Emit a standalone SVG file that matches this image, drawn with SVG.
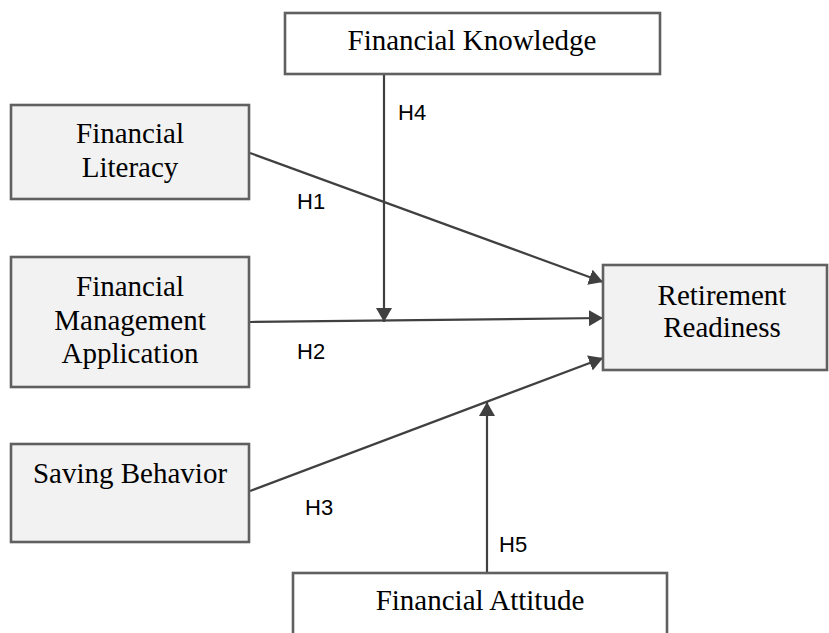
<svg xmlns="http://www.w3.org/2000/svg" width="829" height="633" viewBox="0 0 829 633">
<defs>
<style>
.box{stroke:#606060;stroke-width:2.6}
.grey{fill:#f2f2f2}
.white{fill:#ffffff}
.t{font-family:"Liberation Serif","Times New Roman",serif;font-size:29px;fill:#000;text-anchor:middle}
.h{font-family:"Liberation Sans",Arial,sans-serif;font-size:22px;fill:#000}
.c{stroke:#404040;stroke-width:2.2;fill:none}
</style>
<marker id="ah" markerUnits="userSpaceOnUse" markerWidth="16" markerHeight="16" viewBox="0 0 16 16" refX="14" refY="8" orient="auto">
<path d="M0,0 L14,8 L0,16 Z" fill="#404040"/>
</marker>
</defs>
<rect width="829" height="633" fill="#ffffff"/>
<g id="connectors">
<line class="c" x1="250" y1="153" x2="603" y2="282" marker-end="url(#ah)"/>
<line class="c" x1="250" y1="322" x2="603" y2="318" marker-end="url(#ah)"/>
<line class="c" x1="250" y1="491" x2="603" y2="358" marker-end="url(#ah)"/>
<line class="c" x1="384" y1="74" x2="384" y2="322" marker-end="url(#ah)"/>
<line class="c" x1="487" y1="573" x2="487" y2="402" marker-end="url(#ah)"/>
<text class="h" x="398" y="120">H4</text>
<text class="h" x="297" y="209">H1</text>
<text class="h" x="297" y="359">H2</text>
<text class="h" x="305" y="515">H3</text>
<text class="h" x="499" y="552">H5</text>
</g>
<g id="financial-knowledge">
<rect class="box white" x="285" y="13" width="375" height="61"/>
<text class="t" x="472" y="50">Financial Knowledge</text>
</g>
<g id="financial-literacy">
<rect class="box grey" x="11" y="105" width="238" height="94"/>
<text class="t" x="130" y="143">Financial</text>
<text class="t" x="130" y="177">Literacy</text>
</g>
<g id="financial-management-application">
<rect class="box grey" x="11" y="257" width="238" height="130"/>
<text class="t" x="130" y="296">Financial</text>
<text class="t" x="130" y="330">Management</text>
<text class="t" x="130" y="363">Application</text>
</g>
<g id="saving-behavior">
<rect class="box grey" x="11" y="444" width="238" height="98"/>
<text class="t" x="130" y="483">Saving Behavior</text>
</g>
<g id="retirement-readiness">
<rect class="box grey" x="603" y="265" width="224" height="105"/>
<text class="t" x="722" y="305">Retirement</text>
<text class="t" x="722" y="337">Readiness</text>
</g>
<g id="financial-attitude">
<rect class="box white" x="293" y="573" width="374" height="100"/>
<text class="t" x="480" y="610">Financial Attitude</text>
</g>
</svg>
